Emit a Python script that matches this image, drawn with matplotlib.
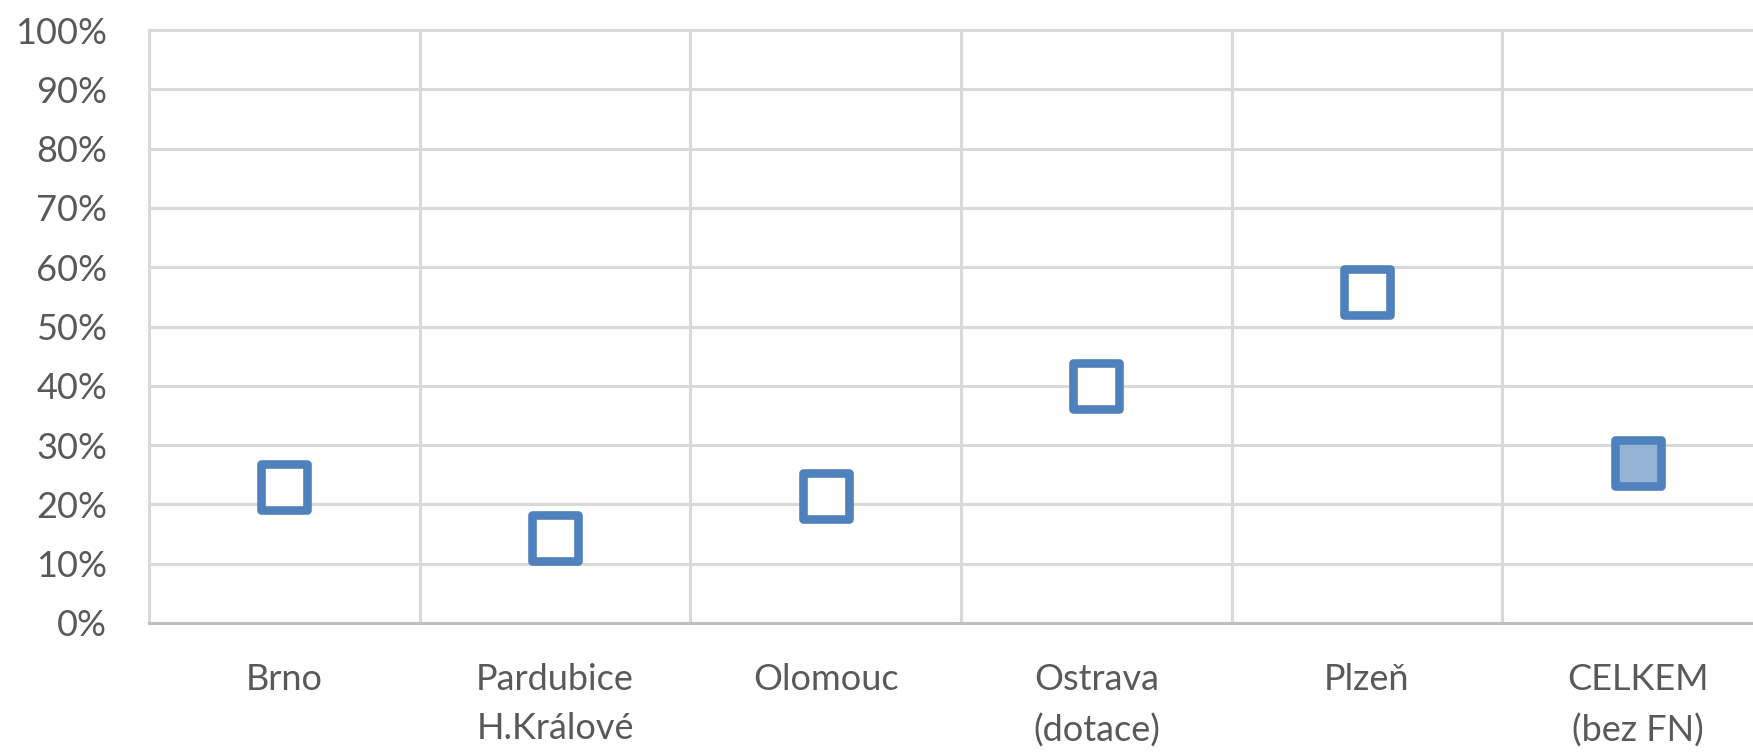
import matplotlib.pyplot as plt
from matplotlib.markers import MarkerStyle
from matplotlib.ticker import PercentFormatter

plt.rcParams['font.family'] = ['Lato', 'DejaVu Sans']

# data
categories = ["Brno", "Pardubice\nH.Králové", "Olomouc", "Ostrava\n(dotace)", "Plzeň", "CELKEM\n(bez FN)"]
shares = [0.230, 0.143, 0.215, 0.399, 0.559, 0.270]
yticks = [i / 10 for i in range(11)]

edge_blue = "#4f81bd"
total_fill = "#95b3d7"
grid_grey = "#d9d9d9"
text_grey = "#595959"

fig = plt.figure(figsize=(17.53, 7.52), dpi=100)
# plot area runs a little past the right edge, as in the source
ax = fig.add_axes([149 / 1753, 1 - 623 / 752, 1624 / 1753, 593 / 752])

x = list(range(len(categories)))
square = MarkerStyle('s', joinstyle='round')
for xi, val, name in zip(x, shares, categories):
    face = total_fill if name.startswith("CELKEM") else "white"
    ax.plot(xi, val, linestyle='none', marker=square, markersize=33,
            markeredgewidth=6.2, markeredgecolor=edge_blue,
            markerfacecolor=face, zorder=3)

ax.set_xlim(-0.5, len(categories) - 0.5)
ax.set_ylim(0, 1)

ax.set_yticks(yticks)
ax.yaxis.set_major_formatter(PercentFormatter(1.0, decimals=0))
ax.set_xticks(x)
ax.set_xticklabels(categories, linespacing=1.6)
ax.set_xticks([i + 0.5 for i in x[:-1]], minor=True)

ax.grid(axis='y', which='major', color=grid_grey, linewidth=2.2)
ax.grid(axis='x', which='minor', color=grid_grey, linewidth=2.2)
ax.set_axisbelow(True)

ax.tick_params(axis='both', which='both', length=0, labelsize=26, colors=text_grey)
ax.tick_params(axis='y', pad=30)
ax.tick_params(axis='x', pad=29)

for side in ['top', 'left']:
    ax.spines[side].set_color(grid_grey)
    ax.spines[side].set_linewidth(2.2)
ax.spines['right'].set_visible(False)
ax.spines['bottom'].set_color("#bfbfbf")
ax.spines['bottom'].set_linewidth(2.2)

fig.savefig("out.png", dpi=100)
